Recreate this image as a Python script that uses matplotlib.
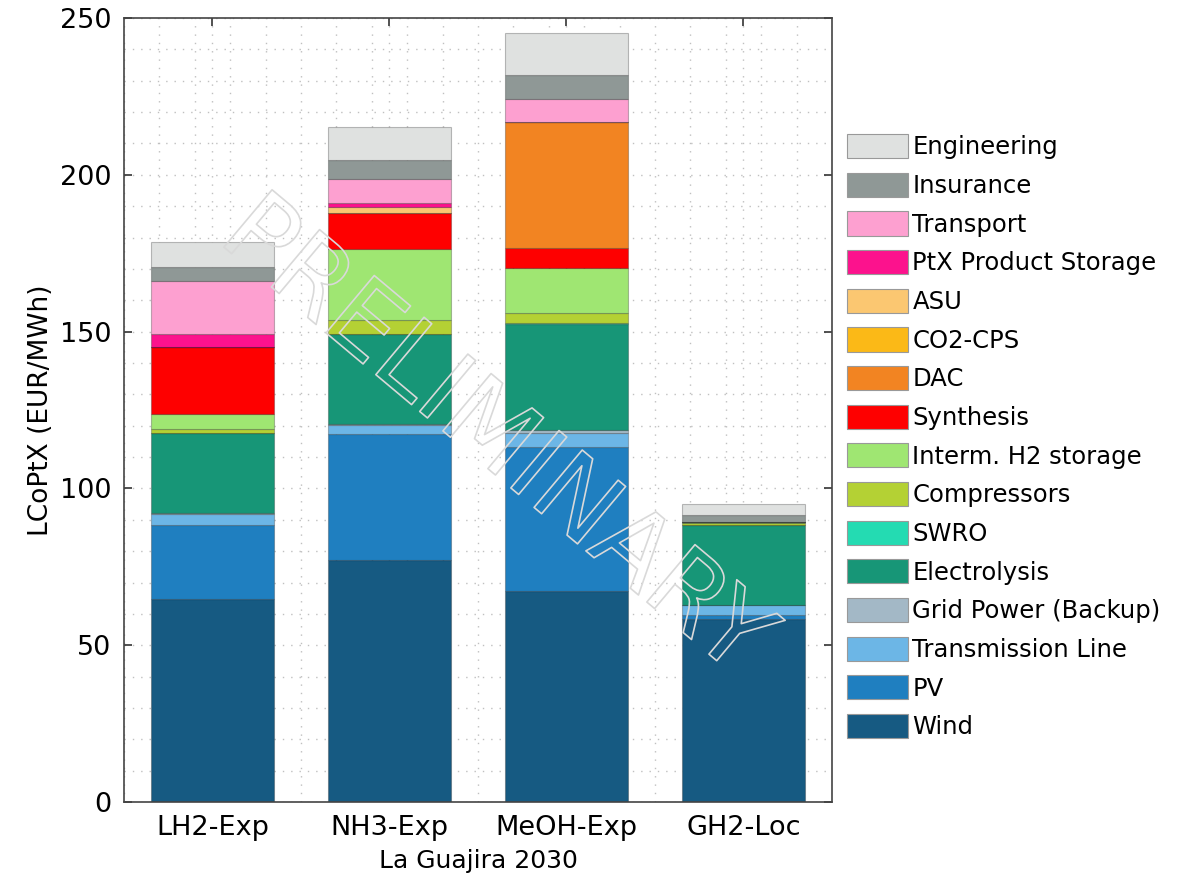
import matplotlib
matplotlib.use('Agg')
import matplotlib.pyplot as plt
import matplotlib.patheffects as pe
import numpy as np
from matplotlib.ticker import MultipleLocator, FixedLocator

cases = ['LH2-Exp', 'NH3-Exp', 'MeOH-Exp', 'GH2-Loc']

components = ['Wind', 'PV', 'Transmission Line', 'Grid Power (Backup)', 'Electrolysis',
              'SWRO', 'Compressors', 'Interm. H2 storage', 'Synthesis', 'DAC',
              'CO2-CPS', 'ASU', 'PtX Product Storage', 'Transport', 'Insurance', 'Engineering']

colors = ['#165a82', '#1f7fc0', '#6cb6e6', '#a3b8c6', '#179677',
          '#24dbb2', '#b4d134', '#9fe672', '#fe0000', '#f28422',
          '#fbb917', '#fbc771', '#fc128d', '#fda0d0', '#8f9896', '#dfe1e0']

# cost per component, one list per case (EUR/MWh)
lh2_exp = [64.7, 23.6, 3.6, 0.3, 25.5, 0.1, 1.0, 4.9, 21.5, 0.0, 0.0, 0.0, 4.0, 16.9, 4.4, 8.0]
nh3_exp = [77.2, 40.0, 3.0, 0.2, 28.8, 0.2, 4.3, 22.6, 11.4, 0.0, 0.0, 2.1, 1.3, 7.6, 6.0, 10.6]
meoh_exp = [67.3, 46.0, 4.3, 1.0, 33.8, 0.2, 3.2, 14.4, 6.4, 40.1, 0.0, 0.0, 0.3, 7.3, 7.6, 13.3]
gh2_loc = [58.3, 1.5, 3.0, 0.1, 25.3, 0.1, 0.8, 0.3, 0.0, 0.0, 0.0, 0.0, 0.0, 0.0, 2.0, 3.5]

values = np.array([lh2_exp, nh3_exp, meoh_exp, gh2_loc]).T

fig = plt.figure(figsize=(11.84, 8.8), dpi=100)
ax = fig.add_axes([0.1047, 0.0886, 0.598, 0.8909])

x = np.arange(len(cases))
bottom = np.zeros(len(cases))
handles = []
for name, col, vals in zip(components, colors, values):
    h = ax.bar(x, vals, 0.7, bottom=bottom, color=col, edgecolor=(0, 0, 0, 0.25),
               linewidth=0.8, label=name, zorder=2)
    handles.append(h)
    bottom += vals

ax.set_xlim(-0.5, 3.5)
ax.set_ylim(0, 250)
ax.set_xticks(x)
ax.set_xticklabels(cases)
ax.yaxis.set_major_locator(MultipleLocator(50))
ax.yaxis.set_minor_locator(MultipleLocator(10))
ax.xaxis.set_minor_locator(FixedLocator(np.arange(-0.5, 3.51, 0.2)))
ax.grid(True, which='both', linestyle=(0, (1, 5)), color='#c0c0c0', linewidth=1.0, zorder=0)
ax.set_axisbelow(True)
ax.tick_params(which='major', direction='in', top=True, right=True, length=6, width=1.2,
               labelsize=19.5, color='#333333', pad=9)
ax.tick_params(which='minor', length=0)
for s in ax.spines.values():
    s.set_color('#444444')
    s.set_linewidth(1.2)

ax.set_ylabel('LCoPtX (EUR/MWh)', fontsize=19, labelpad=4)
ax.set_xlabel('La Guajira 2030', fontsize=18, labelpad=6)

leg = ax.legend(handles[::-1], components[::-1], loc='center left', bbox_to_anchor=(0.99, 0.466),
                frameon=False, fontsize=17.5, handlelength=2.5, handleheight=1.15,
                labelspacing=0.55, handletextpad=0.2)
for p in leg.get_patches():
    p.set_edgecolor('#999999')

fig.text(0.418, 0.503, 'PRELIMINARY', fontsize=74, rotation=-40, ha='center', va='center',
         color=(1, 1, 1, 0), zorder=10,
         path_effects=[pe.Stroke(linewidth=1.2, foreground='#d9d9d9')])

fig.savefig('out.png', dpi=100)
